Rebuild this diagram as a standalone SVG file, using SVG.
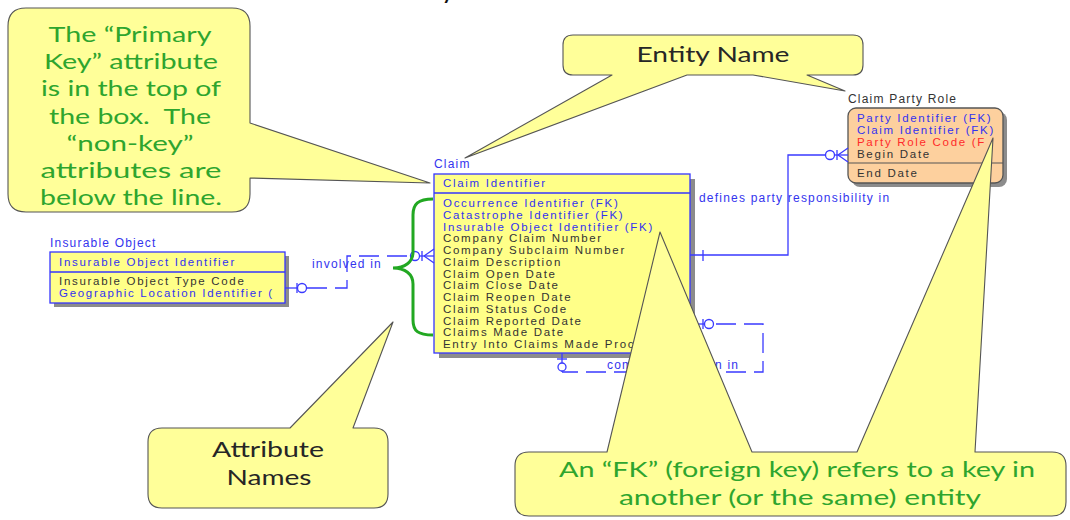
<svg xmlns="http://www.w3.org/2000/svg" width="1070" height="520" viewBox="0 0 1070 520">
  <style>
    .lbl { font-family: "Liberation Sans", Arial, sans-serif; font-size: 12px; letter-spacing: 1.2px; fill: #3434ee; }
    .att { font-family: "Liberation Sans", Arial, sans-serif; font-size: 11.5px; letter-spacing: 1.7px; }
    .b { fill: #3232f0; }
    .k { fill: #333333; }
    .r { fill: #ff2a2a; }
    .ent { fill: #ffff88; stroke: #3535ff; stroke-width: 1.3; }
    .sh { fill: #8c8c8c; }
    .div { stroke: #3535ff; stroke-width: 1.3; }
    .rel { stroke: #3a3aff; stroke-width: 1.3; fill: none; }
    .dash { stroke-dasharray: 20 8; }
    .ring { stroke: #3a3aff; stroke-width: 1.3; fill: #ffffff; }
    .callout { fill: #ffff99; stroke: #555555; stroke-width: 1.1; stroke-linejoin: round; }
    .ct { font-family: Lato, "Open Sans", sans-serif; font-size: 21px; fill: #2ea52e; text-anchor: middle; white-space: pre; }
    .cd { fill: #262626; }
  </style>

  <!-- fragment of the slide title running off the top edge -->
  <text x="441" y="-2" font-family="Lato, sans-serif" font-size="28" fill="#111">y</text>

  <!-- Insurable Object entity -->
  <g id="insurable-object">
    <text class="lbl" x="50" y="247">Insurable Object</text>
    <rect class="sh" x="54" y="256" width="235" height="51"/>
    <rect class="ent" x="50" y="252" width="235" height="51"/>
    <line class="div" x1="50" y1="272" x2="285" y2="272"/>
    <text class="att b" x="59" y="266">Insurable Object Identifier</text>
    <text class="att k" x="59" y="285">Insurable Object Type Code</text>
    <text class="att b" x="59" y="297">Geographic Location Identifier (</text>
  </g>

  <!-- Claim entity -->
  <g id="claim">
    <text class="lbl" x="434" y="168">Claim</text>
    <rect class="sh" x="439" y="179" width="256" height="179"/>
    <rect class="ent" x="434" y="174" width="256" height="179"/>
    <line class="div" x1="434" y1="193" x2="690" y2="193"/>
    <text class="att b" x="443" y="187">Claim Identifier</text>
    <text class="att b" x="443" y="207">Occurrence Identifier (FK)</text>
    <text class="att b" x="443" y="218.75">Catastrophe Identifier (FK)</text>
    <text class="att b" x="443" y="230.5">Insurable Object Identifier (FK)</text>
    <text class="att k" x="443" y="242.25">Company Claim Number</text>
    <text class="att k" x="443" y="254">Company Subclaim Number</text>
    <text class="att k" x="443" y="265.75">Claim Description</text>
    <text class="att k" x="443" y="277.5">Claim Open Date</text>
    <text class="att k" x="443" y="289.25">Claim Close Date</text>
    <text class="att k" x="443" y="301">Claim Reopen Date</text>
    <text class="att k" x="443" y="312.75">Claim Status Code</text>
    <text class="att k" x="443" y="324.5">Claim Reported Date</text>
    <text class="att k" x="443" y="336.25">Claims Made Date</text>
    <text class="att k" x="443" y="348">Entry Into Claims Made Proc</text>
  </g>

  <!-- Claim Party Role entity -->
  <g id="claim-party-role">
    <text class="lbl" x="848" y="103" style="fill:#333">Claim Party Role</text>
    <rect class="sh" x="852" y="112" width="155" height="75" rx="8"/>
    <rect x="848" y="108" width="155" height="75" rx="8" fill="#fdd09e" stroke="#555" stroke-width="1.3"/>
    <line x1="848" y1="163" x2="1003" y2="163" stroke="#555" stroke-width="1.2"/>
    <text class="att b" x="857" y="122">Party Identifier (FK)</text>
    <text class="att b" x="857" y="134">Claim Identifier (FK)</text>
    <text class="att r" x="857" y="146">Party Role Code (F</text>
    <text class="att k" x="857" y="158">Begin Date</text>
    <text class="att k" x="857" y="177">End Date</text>
  </g>

  <!-- relationships -->
  <g id="connectors">
    <!-- Insurable Object involved in Claim -->
    <line class="rel" x1="285" y1="288" x2="297" y2="288"/>
    <path class="rel dash" d="M307,288 H347 V256 H410"/>
    <line class="rel" x1="297" y1="283" x2="297" y2="293"/>
    <circle class="ring" cx="302" cy="288" r="4.5"/>
    <circle class="ring" cx="415" cy="256" r="4.5"/>
    <line class="rel" x1="419.5" y1="256" x2="434" y2="256"/>
    <line class="rel" x1="422" y1="251" x2="422" y2="261"/>
    <path class="rel" d="M424,256 L434,249 M424,256 L434,263"/>
    <text class="lbl" x="312" y="268">involved in</text>

    <!-- Claim defines party responsibility in Claim Party Role -->
    <path class="rel" d="M690,255 H788 V155 H825.5"/>
    <line class="rel" x1="703" y1="250" x2="703" y2="261"/>
    <circle class="ring" cx="830" cy="155" r="4.5"/>
    <line class="rel" x1="834.5" y1="155" x2="848" y2="155"/>
    <line class="rel" x1="837" y1="150" x2="837" y2="160"/>
    <path class="rel" d="M838,155 L848,148 M838,155 L848,162"/>
    <text class="lbl" x="699" y="202">defines party responsibility in</text>

    <!-- Claim recursive relationship -->
    <line class="rel" x1="690" y1="324" x2="704" y2="324"/>
    <line class="rel" x1="703" y1="319" x2="703" y2="329"/>
    <circle class="ring" cx="709" cy="324" r="4.5"/>
    <path class="rel dash" d="M716,324 H763 V372 H562"/>
    <line class="rel" x1="562" y1="353" x2="562" y2="372"/>
    <line class="rel" x1="557" y1="359" x2="567" y2="359"/>
    <circle class="ring" cx="562" cy="367" r="4"/>
    <text class="lbl" x="607" y="369">com</text>
    <text class="lbl" x="715" y="369">n in</text>
  </g>

  <!-- bracket grouping the non-key attributes -->
  <path id="attribute-brace" d="M433,199 C418,199 413,204 413,215 V252 C413,262 405,268 393,268 C405,268 413,274 413,284 V320 C413,331 418,335 433,335" fill="none" stroke="#22a822" stroke-width="3"/>

  <!-- callouts -->
  <g id="callout-primary-key">
    <path class="callout" d="M26,8 H232 Q250,8 250,26 V123 L430,183 L250,178 V194 Q250,212 232,212 H26 Q8,212 8,194 V26 Q8,8 26,8 Z"/>
    <text class="ct" x="130" y="42" textLength="163" lengthAdjust="spacingAndGlyphs">The “Primary</text>
    <text class="ct" x="131" y="69" textLength="174" lengthAdjust="spacingAndGlyphs">Key” attribute</text>
    <text class="ct" x="131" y="96" textLength="180" lengthAdjust="spacingAndGlyphs">is in the top of</text>
    <text class="ct" x="130" y="124" textLength="162" lengthAdjust="spacingAndGlyphs">the box.  The</text>
    <text class="ct" x="130" y="151" textLength="127" lengthAdjust="spacingAndGlyphs">“non-key”</text>
    <text class="ct" x="131" y="178" textLength="181" lengthAdjust="spacingAndGlyphs">attributes are</text>
    <text class="ct" x="131" y="205" textLength="182" lengthAdjust="spacingAndGlyphs">below the line.</text>
  </g>

  <g id="callout-entity-name">
    <path class="callout" d="M573,35 H853 Q863,35 863,45 V65 Q863,75 853,75 H807 L845,91 L753,75 H687 L465,158 L612,75 H573 Q563,75 563,65 V45 Q563,35 573,35 Z"/>
    <text class="ct cd" x="713" y="62" textLength="153" lengthAdjust="spacingAndGlyphs">Entity Name</text>
  </g>

  <g id="callout-attribute-names">
    <path class="callout" d="M162,428 H290 L393,322 L353,428 H374 Q388,428 388,442 V494 Q388,508 374,508 H162 Q148,508 148,494 V442 Q148,428 162,428 Z"/>
    <text class="ct cd" x="268" y="457" textLength="112" lengthAdjust="spacingAndGlyphs">Attribute</text>
    <text class="ct cd" x="269" y="485" textLength="85" lengthAdjust="spacingAndGlyphs">Names</text>
  </g>

  <g id="callout-foreign-key">
    <path class="callout" d="M529,452 H607 L660,232 L752,452 H857 L993,138 L975,452 H1052 Q1066,452 1066,466 V502 Q1066,516 1052,516 H529 Q515,516 515,502 V466 Q515,452 529,452 Z"/>
    <text class="ct" x="797" y="477" textLength="476" lengthAdjust="spacingAndGlyphs">An “FK” (foreign key) refers to a key in</text>
    <text class="ct" x="800" y="505" textLength="362" lengthAdjust="spacingAndGlyphs">another (or the same) entity</text>
  </g>
</svg>
